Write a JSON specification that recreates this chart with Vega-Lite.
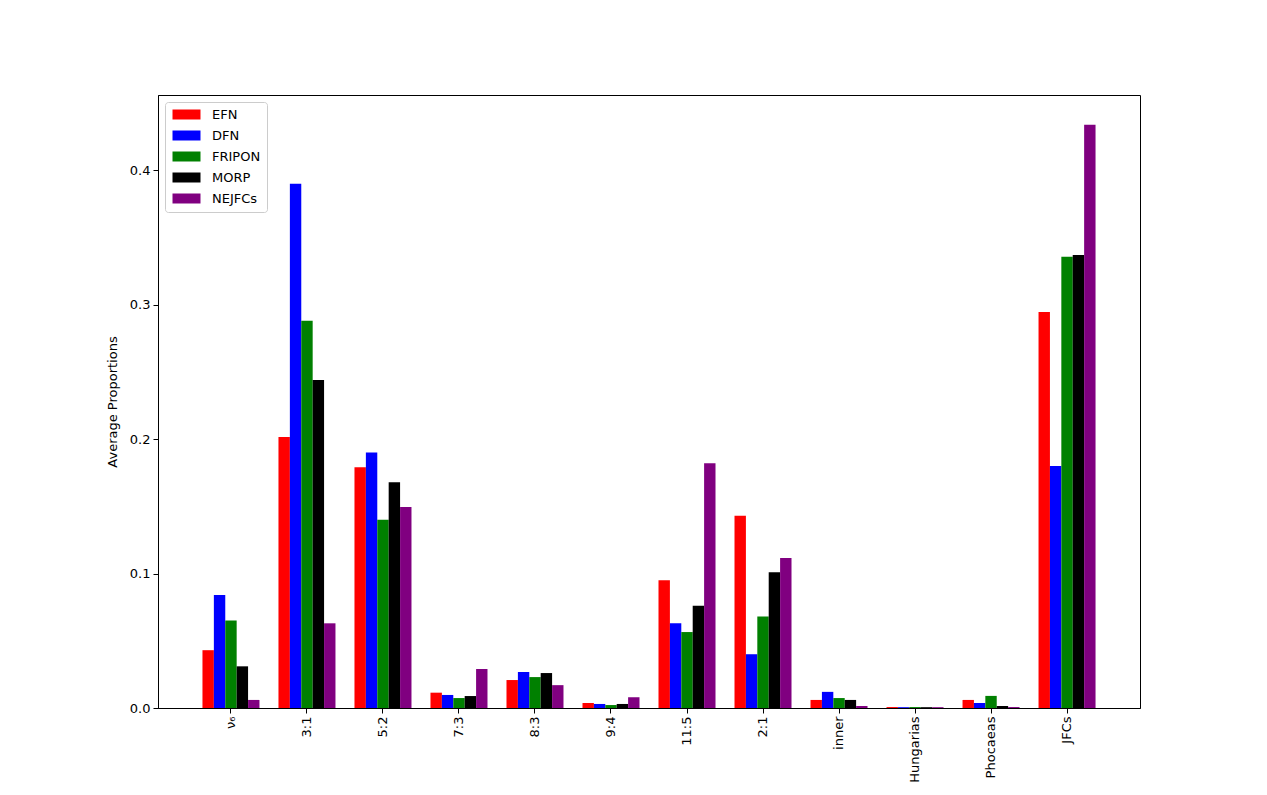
{
  "$schema": "https://vega.github.io/schema/vega-lite/v6.json",
  "autosize": "none",
  "width": 982,
  "height": 613,
  "padding": {"left": 158, "top": 95, "right": 127, "bottom": 87},
  "background": "white",
  "config": {
    "font": "DejaVu Sans",
    "view": {"stroke": "black", "strokeWidth": 1},
    "axis": {"domainColor": "black", "tickColor": "black", "labelColor": "black", "titleColor": "black", "grid": false, "labelFontSize": 13, "titleFontSize": 13, "titleFontWeight": "normal", "tickSize": 5, "labelPadding": 3}
  },
  "data": {
    "values": [
      {"cat": "ν₆", "network": "EFN", "value": 0.043},
      {"cat": "ν₆", "network": "DFN", "value": 0.084},
      {"cat": "ν₆", "network": "FRIPON", "value": 0.065},
      {"cat": "ν₆", "network": "MORP", "value": 0.031},
      {"cat": "ν₆", "network": "NEJFCs", "value": 0.006},
      {"cat": "3:1", "network": "EFN", "value": 0.2016},
      {"cat": "3:1", "network": "DFN", "value": 0.390},
      {"cat": "3:1", "network": "FRIPON", "value": 0.288},
      {"cat": "3:1", "network": "MORP", "value": 0.244},
      {"cat": "3:1", "network": "NEJFCs", "value": 0.063},
      {"cat": "5:2", "network": "EFN", "value": 0.179},
      {"cat": "5:2", "network": "DFN", "value": 0.190},
      {"cat": "5:2", "network": "FRIPON", "value": 0.140},
      {"cat": "5:2", "network": "MORP", "value": 0.168},
      {"cat": "5:2", "network": "NEJFCs", "value": 0.1496},
      {"cat": "7:3", "network": "EFN", "value": 0.0114},
      {"cat": "7:3", "network": "DFN", "value": 0.0097},
      {"cat": "7:3", "network": "FRIPON", "value": 0.0074},
      {"cat": "7:3", "network": "MORP", "value": 0.0089},
      {"cat": "7:3", "network": "NEJFCs", "value": 0.029},
      {"cat": "8:3", "network": "EFN", "value": 0.0208},
      {"cat": "8:3", "network": "DFN", "value": 0.0268},
      {"cat": "8:3", "network": "FRIPON", "value": 0.023},
      {"cat": "8:3", "network": "MORP", "value": 0.026},
      {"cat": "8:3", "network": "NEJFCs", "value": 0.017},
      {"cat": "9:4", "network": "EFN", "value": 0.0037},
      {"cat": "9:4", "network": "DFN", "value": 0.003},
      {"cat": "9:4", "network": "FRIPON", "value": 0.0022},
      {"cat": "9:4", "network": "MORP", "value": 0.003},
      {"cat": "9:4", "network": "NEJFCs", "value": 0.008},
      {"cat": "11:5", "network": "EFN", "value": 0.095},
      {"cat": "11:5", "network": "DFN", "value": 0.063},
      {"cat": "11:5", "network": "FRIPON", "value": 0.0565},
      {"cat": "11:5", "network": "MORP", "value": 0.076},
      {"cat": "11:5", "network": "NEJFCs", "value": 0.182},
      {"cat": "2:1", "network": "EFN", "value": 0.143},
      {"cat": "2:1", "network": "DFN", "value": 0.040},
      {"cat": "2:1", "network": "FRIPON", "value": 0.068},
      {"cat": "2:1", "network": "MORP", "value": 0.101},
      {"cat": "2:1", "network": "NEJFCs", "value": 0.1116},
      {"cat": "inner", "network": "EFN", "value": 0.006},
      {"cat": "inner", "network": "DFN", "value": 0.012},
      {"cat": "inner", "network": "FRIPON", "value": 0.0074},
      {"cat": "inner", "network": "MORP", "value": 0.006},
      {"cat": "inner", "network": "NEJFCs", "value": 0.0015},
      {"cat": "Hungarias", "network": "EFN", "value": 0.0007},
      {"cat": "Hungarias", "network": "DFN", "value": 0.0006},
      {"cat": "Hungarias", "network": "FRIPON", "value": 0.0007},
      {"cat": "Hungarias", "network": "MORP", "value": 0.0006},
      {"cat": "Hungarias", "network": "NEJFCs", "value": 0.0006},
      {"cat": "Phocaeas", "network": "EFN", "value": 0.006},
      {"cat": "Phocaeas", "network": "DFN", "value": 0.0037},
      {"cat": "Phocaeas", "network": "FRIPON", "value": 0.009},
      {"cat": "Phocaeas", "network": "MORP", "value": 0.0015},
      {"cat": "Phocaeas", "network": "NEJFCs", "value": 0.0007},
      {"cat": "JFCs", "network": "EFN", "value": 0.2946},
      {"cat": "JFCs", "network": "DFN", "value": 0.180},
      {"cat": "JFCs", "network": "FRIPON", "value": 0.3356},
      {"cat": "JFCs", "network": "MORP", "value": 0.337},
      {"cat": "JFCs", "network": "NEJFCs", "value": 0.4338}
    ]
  },
  "mark": {"type": "bar"},
  "encoding": {
    "x": {
      "field": "cat",
      "type": "nominal",
      "sort": ["ν₆", "3:1", "5:2", "7:3", "8:3", "9:4", "11:5", "2:1", "inner", "Hungarias", "Phocaeas", "JFCs"],
      "scale": {"paddingInner": 0.25, "paddingOuter": 0.585},
      "axis": {"title": null, "labelAngle": -90, "labelAlign": "right", "labelBaseline": "middle"}
    },
    "xOffset": {
      "field": "network",
      "type": "nominal",
      "sort": ["EFN", "DFN", "FRIPON", "MORP", "NEJFCs"],
      "scale": {"paddingInner": 0, "paddingOuter": 0}
    },
    "y": {
      "field": "value",
      "type": "quantitative",
      "scale": {"domain": [0, 0.456], "nice": false},
      "axis": {"title": "Average Proportions", "values": [0, 0.1, 0.2, 0.3, 0.4], "format": ".1f", "titlePadding": 10}
    },
    "color": {
      "field": "network",
      "type": "nominal",
      "scale": {"domain": ["EFN", "DFN", "FRIPON", "MORP", "NEJFCs"], "range": ["#ff0000", "#0000ff", "#008000", "#000000", "#800080"]},
      "legend": {
        "title": null,
        "orient": "none",
        "legendX": 7,
        "legendY": 7,
        "symbolType": "M-2.8,-1H2.8V1H-2.8Z",
        "symbolSize": 100,
        "symbolStrokeWidth": 0,
        "symbolOffset": 9,
        "labelOffset": 19,
        "labelFontSize": 13,
        "labelColor": "black",
        "rowPadding": 7,
        "padding": 6,
        "strokeColor": "#cccccc",
        "fillColor": "rgba(255,255,255,0.8)",
        "cornerRadius": 3
      }
    }
  }
}
